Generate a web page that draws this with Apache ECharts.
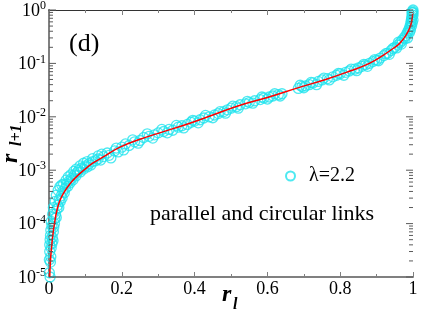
<!DOCTYPE html>
<html>
<head>
<meta charset="utf-8">
<script src="https://cdn.jsdelivr.net/npm/echarts@6/dist/echarts.min.js"></script>
<style>
html,body{margin:0;padding:0;background:#fff;}
#chart{width:423px;height:327px;}
</style>
</head>
<body>
<div id="chart"></div>
<script>
// data
const seriesName = 'λ=2.2';
const noteText = 'parallel and circular links';
const panelTag = '(d)';

// red fit curve: [r_l, r_l+1]
const fitCurve = [
  [0.002,1.0e-5],[0.004,2.0e-5],[0.007,3.6e-5],[0.011,6.5e-5],[0.016,1.1e-4],
  [0.022,1.8e-4],[0.030,2.7e-4],[0.043,4.0e-4],[0.058,5.6e-4],[0.075,7.5e-4],
  [0.094,9.8e-4],[0.120,1.35e-3],[0.148,1.75e-3],[0.195,2.7e-3],[0.25,3.8e-3],
  [0.30,4.9e-3],[0.387,7.6e-3],[0.45,1.08e-2],[0.525,1.65e-2],[0.60,2.3e-2],
  [0.69,3.6e-2],[0.76,5.0e-2],[0.827,7.2e-2],[0.88,0.10],[0.918,0.142],
  [0.945,0.19],[0.964,0.24],[0.98,0.33],[0.992,0.48],[0.997,0.65],[0.999,0.85]
];

// cyan circles: [r_l, r_l+1]
const simPoints = [
  [0.003,1.0e-5],[0.001,2.1e-5],[0.004,1.9e-5],[0.002,4.0e-5],[0.005,2.4e-5],
  [0.006,3.5e-5],[0.008,4.2e-5],[0.009,5.5e-5],[0.011,4.8e-5],[0.004,6.0e-5],
  [0.012,7.0e-5],[0.013,8.5e-5],[0.008,9.0e-5],[0.015,1.0e-4],[0.016,1.25e-4],
  [0.018,1.5e-4],[0.020,1.3e-4],[0.022,1.9e-4],[0.024,2.2e-4],[0.027,2.0e-4],
  [0.028,2.8e-4],[0.031,2.6e-4],[0.033,3.3e-4],[0.036,3.0e-4],[0.038,4.0e-4],
  [0.042,3.8e-4],[0.045,4.6e-4],[0.048,5.5e-4],[0.052,5.0e-4],[0.055,6.2e-4],
  [0.058,5.8e-4],[0.062,7.0e-4],[0.066,6.6e-4],[0.070,8.2e-4],[0.074,7.8e-4],
  [0.078,9.2e-4],[0.082,1.0e-3],[0.086,9.3e-4],[0.090,1.1e-3],[0.095,1.05e-3],
  [0.100,1.2e-3],[0.105,1.15e-3],[0.110,1.32e-3],[0.115,1.25e-3],[0.120,1.45e-3],
  [0.128,1.5e-3],[0.135,1.62e-3],[0.142,1.55e-3],[0.150,1.8e-3],[0.165,1.9e-3],
  [0.180,2.3e-3],[0.190,2.2e-3],[0.200,2.7e-3],[0.210,3.1e-3],[0.220,2.9e-3],
  [0.235,3.4e-3],[0.250,3.6e-3],[0.260,4.1e-3],[0.275,4.3e-3],[0.290,4.6e-3],
  [0.300,5.0e-3],[0.315,5.3e-3],[0.330,5.8e-3],[0.340,5.6e-3],[0.355,6.4e-3],
  [0.365,6.8e-3],[0.380,7.2e-3],[0.390,7.9e-3],[0.400,8.3e-3],[0.415,8.8e-3],
  [0.425,9.5e-3],[0.440,1.0e-2],[0.455,1.08e-2],[0.465,1.15e-2],[0.480,1.25e-2],
  [0.490,1.35e-2],[0.500,1.45e-2],[0.515,1.55e-2],[0.525,1.68e-2],[0.540,1.75e-2],
  [0.550,1.85e-2],[0.565,2.0e-2],[0.580,2.1e-2],[0.590,2.25e-2],[0.605,2.35e-2],
  [0.615,2.45e-2],[0.630,2.6e-2],[0.640,2.7e-2],[0.685,3.4e-2],[0.695,3.7e-2],
  [0.705,3.8e-2],[0.715,4.0e-2],[0.725,4.3e-2],[0.740,4.6e-2],[0.750,4.9e-2],
  [0.765,5.2e-2],[0.780,5.6e-2],[0.790,6.0e-2],[0.800,6.4e-2],[0.815,6.8e-2],
  [0.825,7.2e-2],[0.840,7.8e-2],[0.850,8.2e-2],[0.860,8.8e-2],[0.870,9.4e-2],
  [0.880,0.100],[0.890,0.108],[0.900,0.115],[0.910,0.126],[0.920,0.140],
  [0.930,0.155],[0.940,0.175],[0.950,0.200],[0.958,0.220],[0.965,0.245],
  [0.970,0.270],[0.975,0.300],[0.980,0.330],[0.984,0.370],[0.987,0.410],
  [0.990,0.450],[0.992,0.500],[0.994,0.560],[0.995,0.620],[0.996,0.680],
  [0.997,0.740],[0.998,0.800],[0.999,0.880],[0.999,0.950],[1.000,1.000],
  // second pass: the spread around the band
  [0.001,1.2e-5],[0.002,3.0e-5],[0.003,5.0e-5],[0.005,7.5e-5],[0.006,1.1e-4],
  [0.010,1.5e-4],[0.012,2.0e-4],[0.017,2.6e-4],[0.020,3.4e-4],[0.025,4.2e-4],
  [0.030,4.9e-4],[0.035,5.3e-4],[0.040,5.5e-4],[0.047,6.5e-4],[0.053,7.5e-4],
  [0.060,8.2e-4],[0.068,9.5e-4],[0.075,1.05e-3],[0.085,1.2e-3],[0.095,1.35e-3],
  [0.105,1.45e-3],[0.120,1.65e-3],[0.135,1.85e-3],[0.145,2.0e-3],
  [0.160,2.1e-3],[0.170,1.7e-3],[0.185,2.6e-3],[0.205,2.4e-3],[0.230,3.7e-3],
  [0.245,3.2e-3],[0.270,4.8e-3],[0.285,4.0e-3],[0.310,5.8e-3],[0.325,5.0e-3],
  [0.350,6.9e-3],[0.370,6.2e-3],[0.395,8.6e-3],[0.410,7.7e-3],[0.430,1.06e-2],
  [0.450,9.6e-3],[0.470,1.25e-2],[0.485,1.17e-2],[0.505,1.58e-2],[0.520,1.45e-2],
  [0.545,1.95e-2],[0.560,1.8e-2],[0.585,2.35e-2],[0.600,2.15e-2],[0.620,2.7e-2],
  [0.635,2.45e-2],[0.690,3.9e-2],[0.700,3.5e-2],[0.720,4.4e-2],[0.735,4.0e-2],
  [0.755,5.3e-2],[0.770,4.9e-2],[0.795,6.5e-2],[0.810,6.0e-2],[0.830,7.8e-2],
  [0.845,7.3e-2],[0.865,9.6e-2],[0.875,8.8e-2],[0.895,0.118],[0.905,0.112],
  [0.925,0.152],[0.935,0.148],[0.945,0.190],[0.955,0.195],[0.960,0.250],
  [0.968,0.230],[0.978,0.290],[0.985,0.300],[0.990,0.380],[0.993,0.420],
  [0.996,0.500],[0.998,0.580],[1.000,0.650],[1.000,0.800],[0.997,0.900],[1.000,0.900]
];

const xMin = 0, xMax = 1, xStep = 0.2;
const yMinExp = -5, yMaxExp = 0;

const serif = 'Liberation Serif';
const cyan = '#22e3ee';
const axisGray = '#808080';

// log ticks: decades and 2..9 in every decade
let yTickVals = [];
for (let e = yMinExp; e <= yMaxExp; e++) {
  yTickVals.push([0, Math.pow(10, e)]);
  if (e < yMaxExp) {
    for (let k = 2; k <= 9; k++) yTickVals.push([0, k * Math.pow(10, e)]);
  }
}

let chart = echarts.init(document.getElementById('chart'));

// inward tick marks along both vertical edges
function edgeTicks(api, v, len, color) {
  let p = api.coord([xMin, v]);
  let q = api.coord([xMax, v]);
  return [
    { type: 'line', shape: { x1: p[0], y1: p[1], x2: p[0] + len, y2: p[1] }, style: { stroke: color, lineWidth: 1 } },
    { type: 'line', shape: { x1: q[0], y1: q[1], x2: q[0] - len, y2: q[1] }, style: { stroke: color, lineWidth: 1 } }
  ];
}

let option = {
  animation: false,
  grid: { left: 49, right: 10, top: 10, bottom: 50 },
  legend: {
    left: 280, top: 161,
    itemWidth: 9, itemHeight: 9,
    textStyle: { fontFamily: serif, fontSize: 20, color: '#000', padding: [0, 0, 0, 9] },
    data: [{ name: seriesName, icon: 'circle' }]
  },
  xAxis: [{
    type: 'value', min: xMin, max: xMax, interval: xStep,
    axisLine: { lineStyle: { color: axisGray, width: 2 } },
    axisTick: { inside: true, length: 5, lineStyle: { color: axisGray } },
    minorTick: { show: true, splitNumber: 2, length: 3, lineStyle: { color: axisGray } },
    splitLine: { show: false },
    axisLabel: {
      fontFamily: serif, fontSize: 18, color: '#000', margin: 3,
      formatter: v => (v === 0 || v === 1) ? String(v) : v.toFixed(1)
    }
  }, {
    type: 'value', position: 'top', min: xMin, max: xMax, interval: xStep,
    axisLine: { lineStyle: { color: '#333', width: 1 } },
    axisTick: { inside: true, length: 5, lineStyle: { color: axisGray } },
    minorTick: { show: true, splitNumber: 2, length: 3, lineStyle: { color: axisGray } },
    splitLine: { show: false },
    axisLabel: { show: false }
  }],
  yAxis: [{
    type: 'log', logBase: 10, min: Math.pow(10, yMinExp), max: Math.pow(10, yMaxExp),
    axisLine: { lineStyle: { color: axisGray, width: 2 } },
    axisTick: { show: false },
    splitLine: { show: false },
    axisLabel: {
      margin: 3,
      formatter: v => '{b|10}{s|' + Math.round(Math.log10(v)) + '}',
      rich: {
        b: { fontFamily: serif, fontSize: 18, color: '#000', lineHeight: 20, verticalAlign: 'bottom' },
        s: { fontFamily: serif, fontSize: 12, color: '#000', lineHeight: 14, verticalAlign: 'top', padding: [0, 0, 6, 0] }
      }
    }
  }, {
    type: 'log', logBase: 10, position: 'right', min: Math.pow(10, yMinExp), max: Math.pow(10, yMaxExp),
    axisLine: { lineStyle: { color: axisGray, width: 2 } },
    axisTick: { show: false },
    splitLine: { show: false },
    axisLabel: { show: false }
  }],
  series: [{
    name: seriesName,
    type: 'scatter',
    symbol: 'circle',
    symbolSize: 10,
    clip: false,
    itemStyle: { color: 'transparent', borderColor: cyan, borderWidth: 1.3 },
    data: simPoints
  }, {
    name: 'fit',
    type: 'line',
    smooth: true,
    showSymbol: false,
    lineStyle: { color: '#ff0000', width: 1.5 },
    data: fitCurve,
    z: 5
  }, {
    name: 'yTicks',
    type: 'custom',
    silent: true,
    clip: false,
    z: 10,
    data: yTickVals,
    renderItem: function (params, api) {
      let v = api.value(1);
      let isMajor = Math.abs(Math.log10(v) - Math.round(Math.log10(v))) < 1e-6;
      return { type: 'group', children: edgeTicks(api, v, isMajor ? 7 : 4, '#5a5a5a') };
    }
  }],
  graphic: [
    { type: 'text', left: 69, top: 31, style: { text: panelTag, fontFamily: serif, fontSize: 26, fill: '#000' } },
    { type: 'text', left: 150, top: 203, style: { text: noteText, fontFamily: serif, fontSize: 22, fill: '#000' } },
    // x axis name r_l
    { type: 'text', x: 222, y: 295, style: { text: 'r', fontFamily: serif, fontStyle: 'italic', fontWeight: 'bold', fontSize: 24, fill: '#000', verticalAlign: 'middle' } },
    { type: 'text', x: 233, y: 305, style: { text: 'l', fontFamily: serif, fontStyle: 'italic', fontWeight: 'bold', fontSize: 16, fill: '#000', verticalAlign: 'middle' } },
    // y axis name r_l+1
    { type: 'text', x: 11, y: 163, rotation: Math.PI / 2, style: { text: 'r', fontFamily: serif, fontStyle: 'italic', fontWeight: 'bold', fontSize: 24, fill: '#000', verticalAlign: 'middle' } },
    { type: 'text', x: 17, y: 146, rotation: Math.PI / 2, style: { text: 'l+1', fontFamily: serif, fontStyle: 'italic', fontWeight: 'bold', fontSize: 16, fill: '#000', verticalAlign: 'middle' } }
  ]
};

chart.setOption(option);
</script>
</body>
</html>
